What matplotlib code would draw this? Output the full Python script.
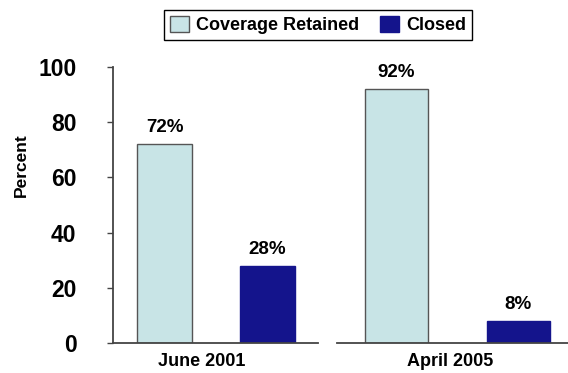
import matplotlib.pyplot as plt
from matplotlib.patches import Patch

plt.rcParams['font.family'] = ['Liberation Sans', 'DejaVu Sans']
plt.rcParams['font.weight'] = 'bold'

# data
periods = ['June 2001', 'April 2005']
series = ['Coverage Retained', 'Closed']
retained = [72, 92]
closed = [28, 8]
yticks = [0, 20, 40, 60, 80, 100]

light = '#c8e4e6'
dark = '#14148c'
axis_col = '#444444'

fig = plt.figure(figsize=(5.68, 3.73), dpi=100)
ax1 = fig.add_axes([113/568, 30/373, 205/568, 276/373])
ax2 = fig.add_axes([337/568, 30/373, 231/568, 276/373])

xlims = [(-0.5, 1.49), (-0.49, 1.41)]
widths = [0.534, 0.52]
label_x = [0.432, 0.491]

for i, ax in enumerate([ax1, ax2]):
    vals = [retained[i], closed[i]]
    ax.bar([0, 1], vals, width=widths[i], color=[light, dark],
           edgecolor=['#555555', dark], linewidth=1)
    for x, v in zip([0, 1], vals):
        ax.annotate(f'{v}%', (x, v), xytext=(0, 8.6), textcoords='offset points',
                    ha='center', va='baseline', fontsize=13.5, fontweight='bold')
    ax.set_xlim(*xlims[i])
    ax.set_ylim(0, 100)
    ax.set_xticks([])
    ax.spines['top'].set_visible(False)
    ax.spines['right'].set_visible(False)
    ax.spines['bottom'].set_color(axis_col)
    ax.spines['bottom'].set_linewidth(1.3)
    ax.set_xlabel(periods[i], fontsize=13, fontweight='bold')
    ax.xaxis.set_label_coords(label_x[i], -0.035)
    ax.xaxis.label.set_va('top')

ax1.spines['left'].set_color(axis_col)
ax1.spines['left'].set_linewidth(1.3)
ax1.set_yticks(yticks)
ax1.tick_params(axis='y', length=4.3, width=1, color=axis_col, pad=22,
                labelsize=16.5)
for t in ax1.get_yticklabels():
    t.set_fontweight('bold')

ax2.spines['left'].set_visible(False)
ax2.set_yticks([])

fig.text(21/568, 1 - 165/373, 'Percent', rotation=90, ha='center', va='center',
         fontsize=12.5, fontweight='bold')

handles = [Patch(facecolor=light, edgecolor='#555555', linewidth=1),
           Patch(facecolor=dark, edgecolor=dark, linewidth=1)]
leg = fig.legend(handles, series, loc='center', bbox_to_anchor=(318/568, 1 - 25/373),
                 ncol=2, fontsize=13, handlelength=1.05, handleheight=1.05,
                 handletextpad=0.39, columnspacing=1.15, borderpad=0.33,
                 fancybox=False, framealpha=1, edgecolor='black')
leg.get_frame().set_linewidth(1)
for t in leg.get_texts():
    t.set_fontweight('bold')

fig.savefig('out.png', dpi=100)
